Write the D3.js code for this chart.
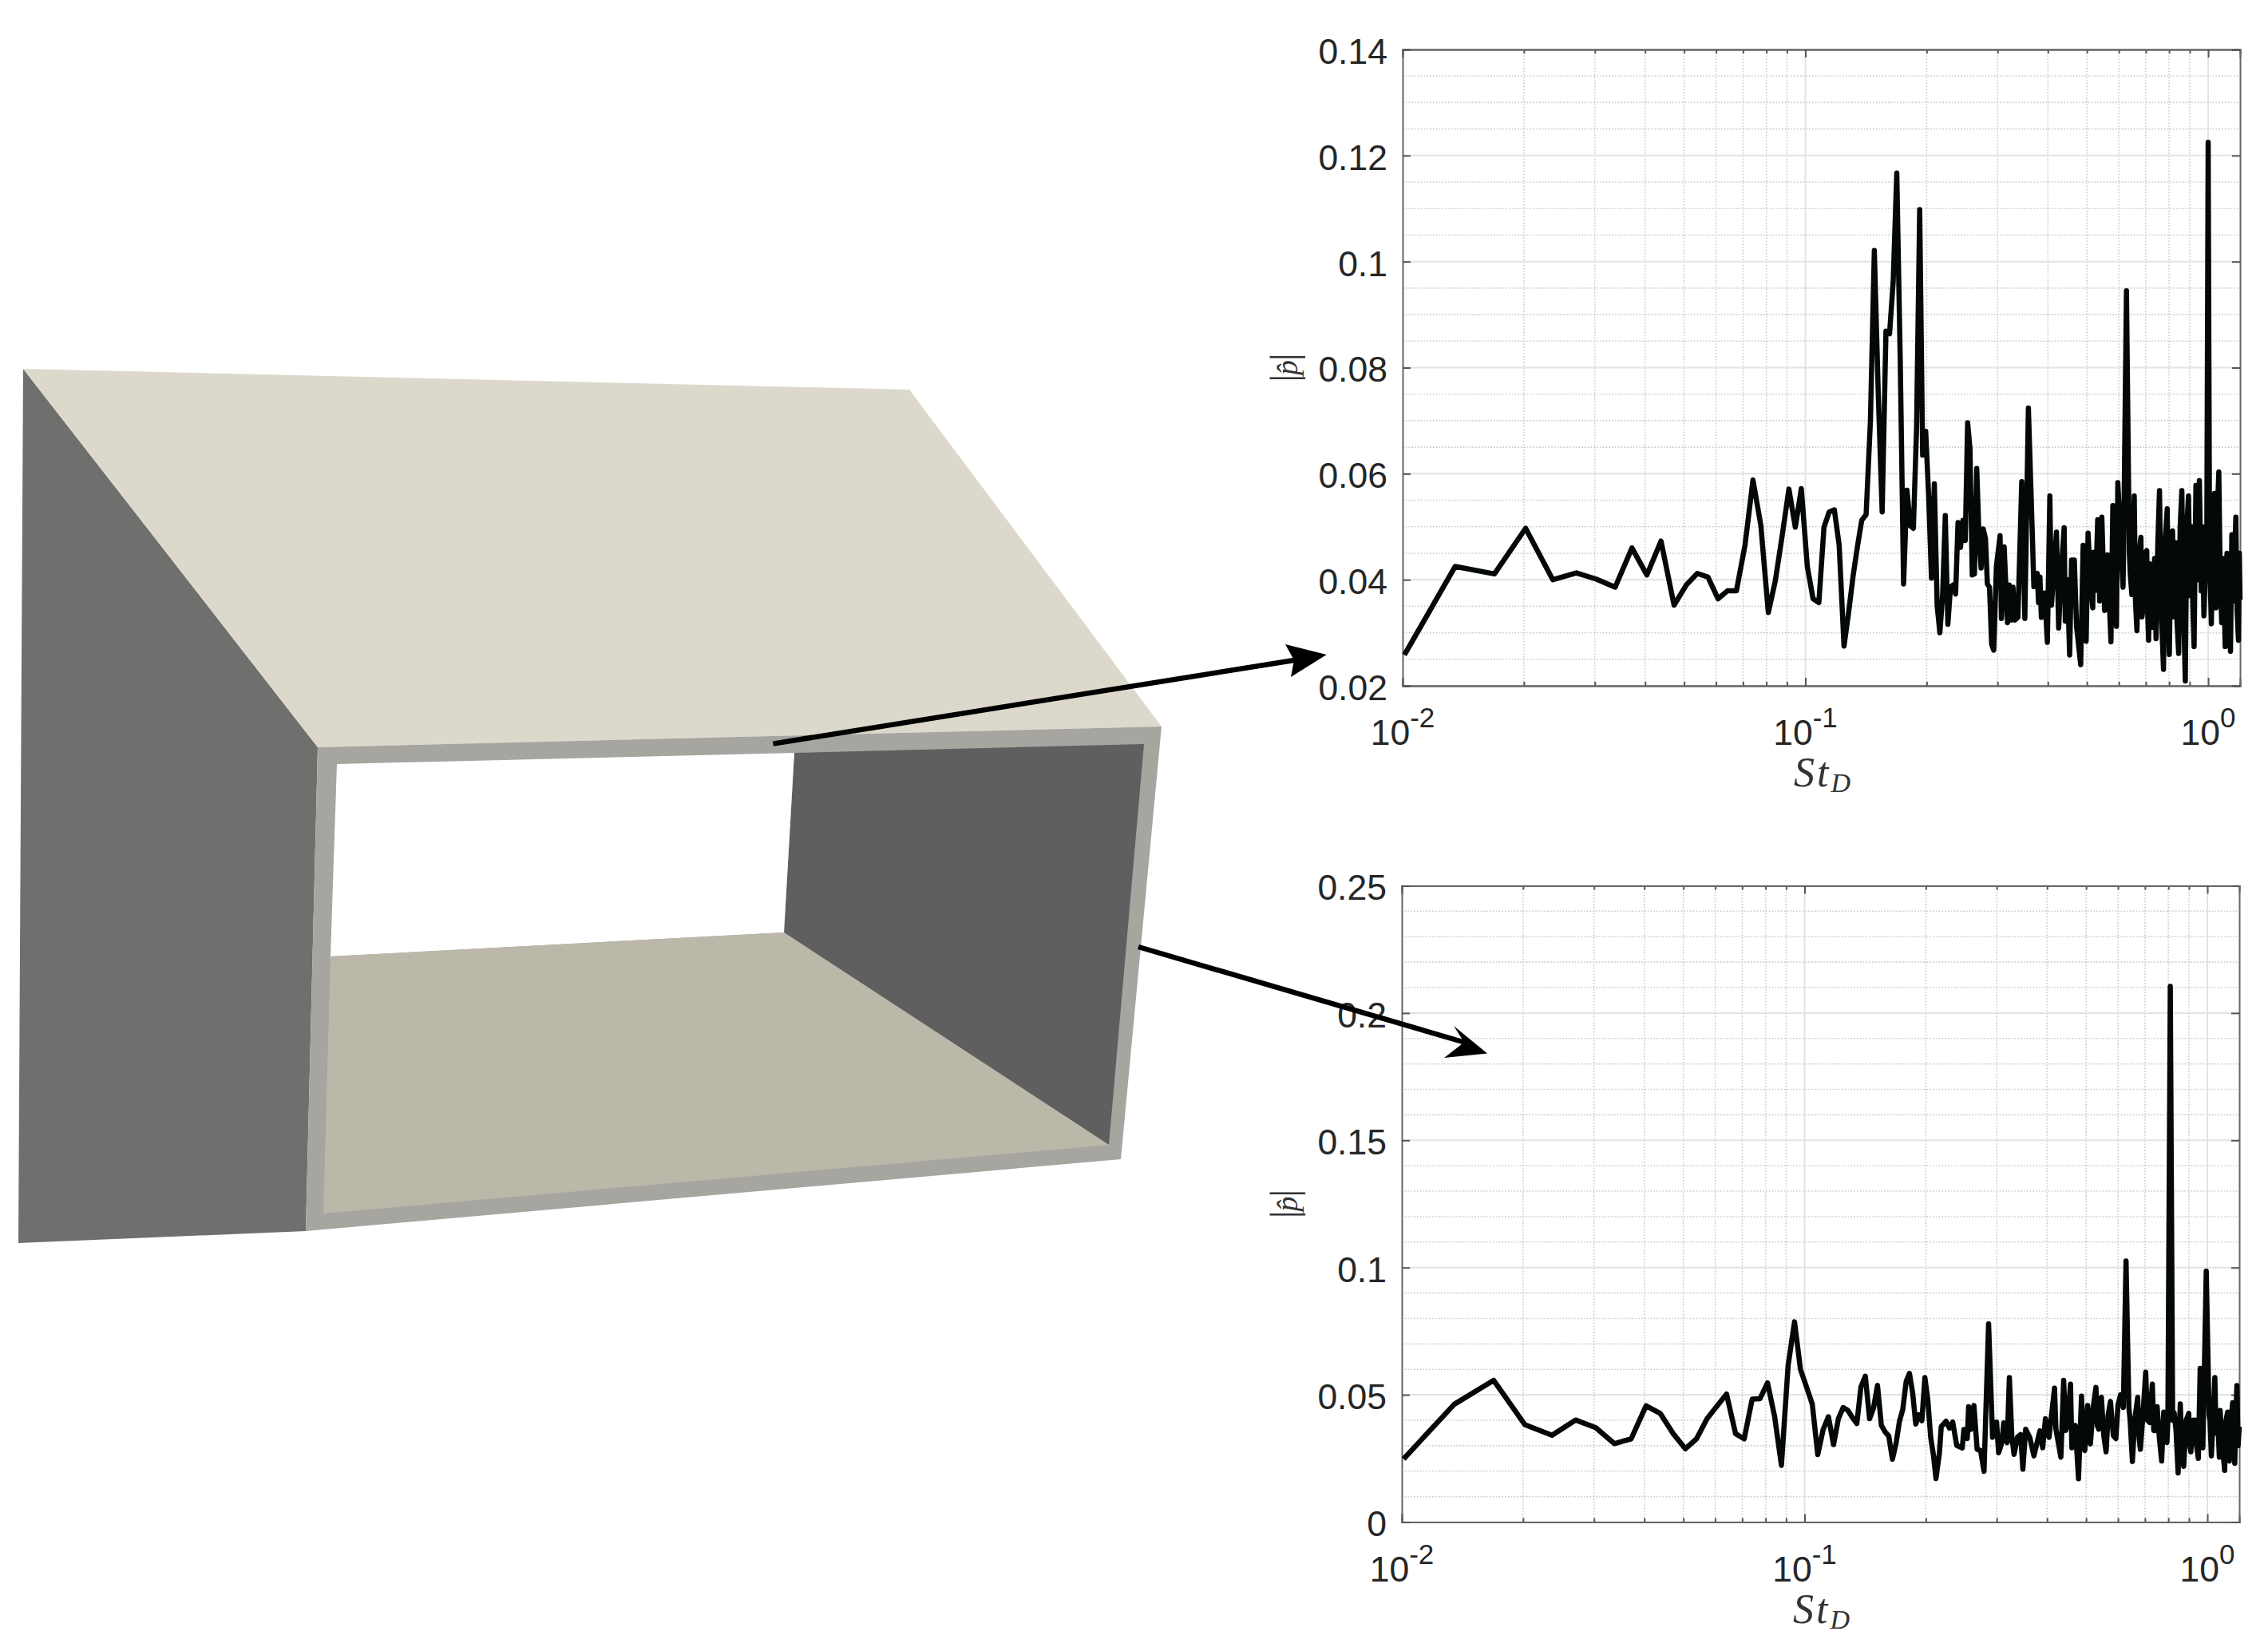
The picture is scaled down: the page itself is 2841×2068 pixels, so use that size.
<!DOCTYPE html>
<html>
<head>
<meta charset="utf-8">
<script src="https://cdn.jsdelivr.net/npm/d3@7/dist/d3.min.js"></script>
<style>
html,body{margin:0;padding:0;background:#fff;}
svg{display:block;}
</style>
</head>
<body>
<svg id="fig" width="2841" height="2068"></svg>
<script>
// ---- spectrum: [St_D, |p|] ----
const topSeries = [
[.0101,.0258],[.0135,.0425],[.0169,.0411],[.0202,.0497],[.0236,.0400],[.027,.0413],[.0303,.0401],[.0337,.0386],
[.0371,.0460],[.0404,.0409],[.0438,.0473],[.0472,.0352],[.0506,.039],[.0539,.0412],[.0573,.0405],[.0607,.0364],
[.064,.0379],[.0674,.0379],[.0708,.0465],[.0741,.0588],[.0775,.0503],[.0809,.0338],[.0842,.0398],[.0876,.0484],
[.091,.0571],[.0944,.0499],[.0977,.0572],[.1011,.0425],[.1045,.0364],[.108,.0357],[.1112,.0499],[.1146,.0528],
[.118,.0532],[.1213,.0465],[.1247,.0275],[.128,.0338],[.1314,.0408],[.1348,.0465],[.138,.0512],[.1415,.0523],
[.145,.0698],[.1483,.1021],[.1517,.0749],[.1551,.0528],[.1585,.0869],[.1618,.0864],[.1652,.0963],[.1686,.1167],
[.172,.0812],[.1753,.0392],[.1787,.0569],[.1821,.0502],[.1854,.0497],[.1888,.0686],[.1922,.1098],[.1955,.0635],
[.1989,.068],[.2023,.0559],[.2056,.0403],[.209,.0581],[.2124,.0351],[.2157,.03],[.2191,.037],[.2225,.0521],
[.2258,.0316],[.2292,.0386],[.2326,.039],[.236,.0373],[.2393,.0508],[.2427,.0461],[.2461,.0512],[.2494,.0474],
[.2528,.0696],[.2562,.0648],[.2596,.0409],[.2629,.0411],[.2663,.061],[.2697,.0484],[.273,.0422],[.2764,.0496],
[.28,.0477],[.283,.0392],[.2865,.0386],[.29,.0278],[.2935,.0267],[.298,.0425],[.3043,.0483],[.3067,.0327],
[.3115,.0462],[.3175,.0319],[.3205,.039],[.3243,.0324],[.3276,.0386],[.331,.0324],[.337,.0329],[.3445,.0585],
[.3506,.0327],[.3578,.0724],[.3658,.049],[.3692,.0387],[.3763,.0412],[.3792,.0357],[.3822,.0405],[.3853,.0329],
[.3926,.0375],[.3988,.0282],[.4045,.0558],[.4083,.0352],[.414,.042],[.4201,.049],[.4254,.0309],[.432,.042],[.439,.0498],[.4418,.0322],
[.447,.04],[.453,.0258],[.458,.0437],[.4653,.0437],[.4712,.0312],[.4825,.024],[.4893,.0465],[.4935,.036],[.4978,.0284],[.5033,.0488],
[.51,.04],[.517,.0347],[.5195,.0452],[.5255,.038],[.5318,.0513],[.5377,.036],[.5445,.0518],[.5532,.0342],[.562,.0447],[.5736,.0283],
[.5799,.054],[.586,.04],[.5919,.0312],[.5966,.0583],[.6147,.0386],[.6165,.045],[.6268,.0945],[.6372,.045],[.6406,.041],[.6465,.0372],[.6553,.0558],
[.66,.036],[.6654,.0304],[.672,.044],[.6807,.048],[.685,.033],[.6901,.035],[.697,.045],[.7039,.0455],[.7075,.034],[.7114,.0286],
[.717,.043],[.7234,.0425],[.73,.031],[.736,.044],[.7424,.0289],[.75,.047],[.7571,.0568],[.765,.034],[.7746,.0231],[.783,.048],[.7913,.0534],
[.796,.034],[.801,.0259],[.808,.047],[.8157,.0492],[.823,.033],[.83,.047],[.837,.032],[.8448,.0261],[.852,.05],[.8603,.0568],[.868,.036],
[.8775,.0209],[.885,.05],[.8936,.0558],[.902,.037],[.91,.05],[.916,.035],[.9226,.0274],[.9325,.0578],[.94,.04],[.951,.0587],[.9613,.0379],
[.968,.05],[.976,.0332],[.985,.042],[.992,.045],[1.0,.1225],[1.008,.045],[1.0184,.0317],[1.028,.05],[1.0372,.0563],[1.0451,.0347],[1.053,.052],
[1.0627,.0603],[1.0716,.04],[1.0806,.0319],[1.09,.044],[1.1022,.0274],[1.108,.042],[1.1139,.045],[1.125,.033],[1.1362,.0265],[1.1449,.0485],
[1.155,.036],[1.1713,.0518],[1.18,.034],[1.1892,.0286],[1.195,.045],[1.2,.0362]
];
const bottomSeries = [
[.0101,.0248],[.0135,.0463],[.0169,.0557],[.0202,.0383],[.0236,.0341],[.027,.0401],[.0303,.0371],[.0337,.0308],
[.0371,.0327],[.0404,.0457],[.0438,.0427],[.0472,.0347],[.0506,.0288],[.0539,.0327],[.0573,.0407],[.0607,.0457],
[.064,.0503],[.0674,.0347],[.0708,.0327],[.0741,.0483],[.0775,.0485],[.0809,.0547],[.0842,.0417],[.0876,.0223],
[.091,.0615],[.0944,.0787],[.0977,.0599],[.1011,.0531],[.1045,.0463],[.1078,.0265],[.1112,.0364],[.1146,.0414],
[.118,.0304],[.1213,.0406],[.1247,.045],[.128,.0439],[.1314,.0411],[.1348,.0387],[.138,.0531],[.1415,.0573],
[.145,.0406],[.1483,.0448],[.1517,.0537],[.1551,.038],[.1585,.0354],[.1618,.0338],[.1652,.0247],[.1686,.0307],
[.172,.0396],[.1753,.0443],[.1787,.0552],[.1821,.0584],[.1854,.051],[.1888,.0385],[.1922,.0422],[.1955,.0398],
[.1989,.0568],[.2023,.0479],[.2056,.0333],[.209,.026],[.2119,.0171],[.2161,.027],[.2184,.0375],[.2245,.0396],
[.2289,.0369],[.2332,.0393],[.2386,.0301],[.2463,.0291],[.2486,.0364],[.2535,.0328],[.2554,.0453],[.2585,.0364],
[.2633,.0458],[.2681,.0286],[.2735,.0281],[.2789,.0199],[.2863,.0779],[.2929,.0333],[.2997,.0393],[.3032,.0272],
[.3089,.0312],[.3122,.039],[.3184,.0312],[.3224,.0568],[.3271,.0333],[.3312,.0266],[.3376,.0333],[.344,.0344],
[.3483,.0208],[.3539,.0365],[.3623,.0333],[.371,.026],[.384,.0359],[.3901,.0292],[.3963,.0406],[.4045,.0333],
[.4174,.0526],[.4207,.0365],[.4328,.0255],[.4397,.0557],[.445,.036],[.4495,.0385],[.4573,.0542],[.4609,.0292],[.47,.038],[.4787,.017],
[.487,.0495],[.4915,.033],[.4963,.0281],[.5043,.0458],[.5085,.033],[.5124,.0307],[.5207,.0453],[.5289,.0529],[.533,.038],[.5372,.0365],
[.5456,.049],[.553,.034],[.5604,.0276],[.567,.042],[.5747,.0474],[.584,.034],[.5927,.0328],[.6,.046],[.6089,.05],[.6185,.045],
[.6281,.1026],[.6385,.045],[.643,.04],[.6514,.0238],[.66,.04],[.6715,.049],[.677,.033],[.6818,.0286],[.692,.042],[.7029,.0589],[.71,.04],
[.7191,.0391],[.7301,.0542],[.736,.036],[.7412,.0359],[.7503,.0453],[.76,.033],[.77,.024],[.7794,.0432],[.7865,.032],[.7937,.0313],
[.798,.04],[.809,.2105],[.82,.04],[.827,.043],[.836,.036],[.846,.0193],[.8564,.0464],[.865,.03],[.8735,.0219],[.886,.04],[.8991,.0427],
[.905,.03],[.9101,.0276],[.92,.04],[.9311,.0401],[.94,.03],[.9496,.025],[.9598,.0604],[.967,.04],[.9745,.0292],[.978,.042],[.9936,.0986],
[1.01,.042],[1.015,.04],[1.023,.026],[1.033,.04],[1.0435,.0568],[1.0515,.0349],[1.061,.04],[1.0708,.0255],[1.0757,.0438],[1.09,.03],
[1.1038,.0203],[1.113,.04],[1.1224,.0432],[1.1345,.024],[1.145,.04],[1.1553,.0469],[1.1695,.0231],[1.176,.04],[1.1838,.0536],[1.192,.03],[1.2,.0375]
];

// ---- axis ticks ----
const xDomain = [0.01, 1.2];
const xMajor = [0.01, 0.1, 1];
const xMajorExp = ["-2", "-1", "0"];
const xMinor = [.02,.03,.04,.05,.06,.07,.08,.09,.2,.3,.4,.5,.6,.7,.8,.9];
const topYDomain = [0.02, 0.14];
const topYMajor = [0.02,0.04,0.06,0.08,0.1,0.12,0.14];
const topYLabels = ["0.02","0.04","0.06","0.08","0.1","0.12","0.14"];
const topYMinor = [.025,.03,.035,.045,.05,.055,.065,.07,.075,.085,.09,.095,.105,.11,.115,.125,.13,.135];
const bottomYDomain = [0, 0.25];
const bottomYMajor = [0,0.05,0.1,0.15,0.2,0.25];
const bottomYLabels = ["0","0.05","0.1","0.15","0.2","0.25"];
const bottomYMinor = [.01,.02,.03,.04,.06,.07,.08,.09,.11,.12,.13,.14,.16,.17,.18,.19,.21,.22,.23,.24];

// ---- the box illustration ----
const boxFaces = [
  {fill:"#6f6f6d", pts:[[29,462],[398,936],[383,1542],[23,1557]]},
  {fill:"#dcd9cc", pts:[[29,462],[1139,488],[1455,910],[398,936]]},
  {fill:"#a6a5a0", pts:[[398,936],[1455,910],[1404,1452],[383,1542]]},
  {fill:"#5f5f5f", pts:[[995,943],[1433,932],[1389,1434],[982,1168]]},
  {fill:"#ffffff", pts:[[422,957],[995,943],[982,1168],[414,1198]]},
  {fill:"#bbb8aa", pts:[[414,1198],[982,1168],[1389,1434],[405,1520]]}
];
const arrows = [
  {from:[968.4,931.6], head:[[1661.7,820],[1610,807],[1621,827],[1617,848]]},
  {from:[1426,1186],   head:[[1863,1319.5],[1821,1285],[1834,1305.5],[1809,1325]]}
];

const svg = d3.select("#fig");
const FONT = "'Liberation Sans', Arial, sans-serif";
const SERIF = "'Liberation Serif', 'Times New Roman', serif";
const TXT = "#262626";

const polyLine = d3.line();
svg.append("g").selectAll("path").data(boxFaces).join("path")
  .attr("d", d => polyLine(d.pts) + "Z").attr("fill", d => d.fill);

function panel(o) {
  const x = d3.scaleLog().domain(xDomain).range([o.left, o.right]);
  const y = d3.scaleLinear().domain(o.yDomain).range([o.bottom, o.top]);
  const g = svg.append("g");

  // grid
  const grid = g.append("g");
  grid.selectAll("line.mx").data(xMinor).join("line").attr("class","mx")
    .attr("x1",d=>x(d)).attr("x2",d=>x(d)).attr("y1",o.top).attr("y2",o.bottom)
    .attr("stroke","#cacaca").attr("stroke-width",1.6).attr("stroke-dasharray","1.6 2.2");
  grid.selectAll("line.my").data(o.yMinor).join("line").attr("class","my")
    .attr("x1",o.left).attr("x2",o.right).attr("y1",d=>y(d)).attr("y2",d=>y(d))
    .attr("stroke","#cacaca").attr("stroke-width",1.6).attr("stroke-dasharray","1.6 2.2");
  grid.selectAll("line.Mx").data(xMajor.slice(1)).join("line").attr("class","Mx")
    .attr("x1",d=>x(d)).attr("x2",d=>x(d)).attr("y1",o.top).attr("y2",o.bottom)
    .attr("stroke","#e3e3e3").attr("stroke-width",2);
  grid.selectAll("line.My").data(o.yMajor).join("line").attr("class","My")
    .attr("x1",o.left).attr("x2",o.right).attr("y1",d=>y(d)).attr("y2",d=>y(d))
    .attr("stroke","#e3e3e3").attr("stroke-width",2);

  // axes with inward ticks
  const style = s => {
    s.selectAll("path.domain").attr("stroke","#666").attr("stroke-width",2);
    s.selectAll(".tick line").attr("stroke","#555").attr("stroke-width",2);
  };
  const minorAxis = (gen, vals, tr) => g.append("g").attr("transform",tr)
      .call(gen.tickValues(vals).tickSize(-5).tickFormat("")).call(style);
  minorAxis(d3.axisBottom(x), xMinor, `translate(0,${o.bottom})`);
  minorAxis(d3.axisTop(x), xMinor, `translate(0,${o.top})`);

  g.append("g").attr("transform",`translate(0,${o.bottom})`)
    .call(d3.axisBottom(x).tickValues(xMajor).tickSize(-10).tickPadding(0).tickFormat("")).call(style);
  g.append("g").attr("transform",`translate(0,${o.top})`)
    .call(d3.axisTop(x).tickValues(xMajor).tickSize(-10).tickFormat("")).call(style);
  const yl = g.append("g").attr("transform",`translate(${o.left},0)`)
    .call(d3.axisLeft(y).tickValues(o.yMajor).tickSize(-10).tickPadding(19)
      .tickFormat((d,i)=>o.yLabels[i])).call(style);
  yl.selectAll("text").attr("font-family",FONT).attr("font-size",44.5).attr("fill",TXT).attr("dy","0.39em");
  g.append("g").attr("transform",`translate(${o.right},0)`)
    .call(d3.axisRight(y).tickValues(o.yMajor).tickSize(-10).tickFormat("")).call(style);

  // decade labels 10^n
  const lab = g.append("g").selectAll("text").data(xMajor).join("text")
    .attr("x",d=>x(d)).attr("y",o.bottom+74).attr("text-anchor","middle")
    .attr("font-family",FONT).attr("fill",TXT).attr("font-size",44.5);
  lab.append("tspan").text("10");
  lab.append("tspan").attr("font-size",35).attr("dy",-22).text((d,i)=>xMajorExp[i]);

  // x label St_D
  const xt = g.append("text").attr("x",(o.left+o.right)/2+1).attr("y",o.bottom+126)
    .attr("text-anchor","middle").attr("font-family",SERIF).attr("font-style","italic").attr("fill","#333");
  xt.append("tspan").attr("font-size",52).attr("letter-spacing",3).text("St");
  xt.append("tspan").attr("font-size",34).attr("dy",7).text("D");

  // y label |p-hat|
  const yt = g.append("text")
    .attr("transform",`translate(1625,${(o.top+o.bottom)/2}) rotate(-90)`)
    .attr("text-anchor","middle").attr("font-family",SERIF).attr("fill","#333");
  yt.append("tspan").attr("font-size",48).text("|");
  yt.append("tspan").attr("font-size",38).attr("font-style","italic").attr("dx",-1).text("p\u0302");
  yt.append("tspan").attr("font-size",48).attr("dx",-1).text("|");

  // spectrum
  const line = d3.line().x(d=>x(d[0])).y(d=>y(d[1]));
  g.append("path").datum(o.series).attr("d",line).attr("fill","none")
    .attr("stroke","#040808").attr("stroke-width",6.5).attr("stroke-linejoin","round");
}

panel({left:1757,right:2806,top:62,bottom:859,yDomain:topYDomain,yMajor:topYMajor,yLabels:topYLabels,yMinor:topYMinor,series:topSeries});
panel({left:1756,right:2805,top:1109.5,bottom:1906.5,yDomain:bottomYDomain,yMajor:bottomYMajor,yLabels:bottomYLabels,yMinor:bottomYMinor,series:bottomSeries});

// arrows sit on top of everything
const ag = svg.append("g");
arrows.forEach(a => {
  ag.append("line").attr("x1",a.from[0]).attr("y1",a.from[1]).attr("x2",a.head[2][0]).attr("y2",a.head[2][1])
    .attr("stroke","#000").attr("stroke-width",6.5);
  ag.append("path").attr("d",polyLine(a.head)+"Z").attr("fill","#000");
});
</script>
</body>
</html>
